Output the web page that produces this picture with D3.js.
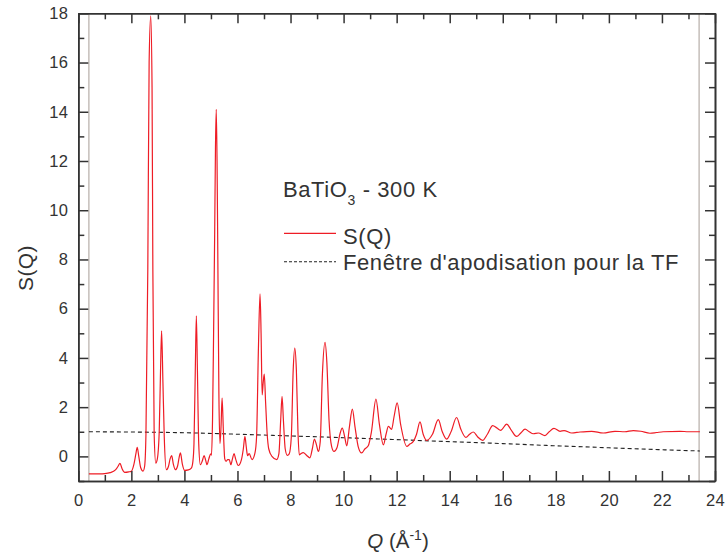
<!DOCTYPE html>
<html>
<head>
<meta charset="utf-8">
<script src="https://d3js.org/d3.v7.min.js"></script>
<style>
  body { margin: 0; background: #fff; }
  text { font-family: "Liberation Sans", Arial, Helvetica, sans-serif; fill: #333; }
</style>
</head>
<body>
<div id="graph"></div>
<script>
// S(Q)
const sqQ = [0.4, 0.8, 1.0, 1.2, 1.4, 1.5, 1.57, 1.65, 1.75, 1.9, 2.0, 2.1, 2.17, 2.22, 2.28, 2.35, 2.44, 2.5, 2.55, 2.62,
  2.67, 2.73, 2.78, 2.81, 2.86, 2.92, 2.98, 3.05, 3.1, 3.14, 3.19, 3.24, 3.32, 3.4, 3.46, 3.52, 3.58, 3.66, 3.74, 3.8,
  3.85, 3.92, 4.01, 4.15, 4.26, 4.32, 4.36, 4.41, 4.45, 4.49, 4.54, 4.6, 4.67, 4.74, 4.8, 4.85, 4.92, 4.99, 5.02, 5.06,
  5.1, 5.14, 5.17, 5.2, 5.23, 5.26, 5.3, 5.34, 5.38, 5.42, 5.47, 5.52, 5.57, 5.63, 5.69, 5.75, 5.81, 5.87, 5.93, 6.03,
  6.15, 6.22, 6.28, 6.33, 6.38, 6.44, 6.55, 6.66, 6.72, 6.79, 6.85, 6.89, 6.93, 6.97, 7.01, 7.06, 7.12, 7.18, 7.3, 7.48,
  7.56, 7.63, 7.68, 7.73, 7.8, 7.88, 7.95, 8.03, 8.1, 8.16, 8.22, 8.28, 8.33, 8.4, 8.48, 8.6, 8.73, 8.82, 8.9, 8.97,
  9.05, 9.12, 9.2, 9.3, 9.37, 9.45, 9.55, 9.64, 9.75, 9.86, 9.95, 10.04, 10.12, 10.22, 10.33, 10.43, 10.55, 10.68, 10.8, 10.93,
  11.05, 11.22, 11.35, 11.5, 11.6, 11.69, 11.81, 11.9, 12.02, 12.15, 12.38, 12.5, 12.63, 12.75, 12.88, 13.0, 13.13, 13.35, 13.57, 13.72,
  13.88, 14.05, 14.26, 14.42, 14.61, 14.75, 14.89, 15.05, 15.24, 15.42, 15.62, 15.78, 15.92, 16.15, 16.3, 16.52, 16.68, 16.84, 17.0, 17.15,
  17.34, 17.59, 17.75, 17.93, 18.16, 18.31, 18.6, 18.91, 19.35, 19.79, 20.23, 20.6, 20.92, 21.2, 21.55, 21.8, 22.05, 22.68, 23.0, 23.43];
const sqS = [-0.71, -0.71, -0.70, -0.66, -0.55, -0.4, -0.28, -0.5, -0.65, -0.63, -0.6, -0.3, 0.1, 0.37, 0.0, -0.45, -0.6, -0.4, 0.9, 7.6,
  16, 17.9, 15, 7.6, 0.9, -0.27, -0.1, 1.0, 3.5, 5.1, 3.0, 0.8, -0.54, -0.4, -0.1, 0.03, -0.3, -0.54, -0.4, -0.05,
  0.14, -0.3, -0.57, -0.55, -0.48, -0.2, 0.5, 3.5, 5.71, 3.5, 0.5, -0.34, -0.2, 0.03, -0.15, -0.34, -0.1, 0.1, 0.05, 1.5,
  5, 9, 12.5, 14.1, 12, 8, 2.5, 0.52, 1.2, 2.37, 1.0, -0.1, -0.2, -0.13, -0.13, -0.34, -0.1, 0.11, -0.1, -0.37,
  -0.13, 0.3, 0.81, 0.4, 0.03, 0.11, -0.13, 0.14, 0.8, 4.4, 6.6, 5.0, 2.5, 3.0, 3.34, 2.2, 0.9, 0.3, 0.0, -0.13,
  0.1, 1.5, 2.44, 1.5, 0.3, 0.04, 0.1, 0.8, 3.5, 4.4, 3.5, 1.0, 0.06, 0.12, 0.15, 0.05, -0.06, 0.3, 0.7, 0.5,
  0.2, 0.6, 3.3, 4.63, 3.8, 1.5, 0.4, 0.2, 0.35, 0.9, 1.15, 0.8, 0.43, 1.2, 1.92, 1.2, 0.4, 0.14, 0.3, 0.43,
  1.0, 2.33, 1.3, 0.47, 0.9, 1.22, 1.1, 1.6, 2.17, 1.3, 0.41, 0.5, 0.61, 0.9, 1.4, 0.9, 0.65, 0.9, 1.49, 1.0,
  0.7, 1.0, 1.58, 1.1, 0.77, 0.9, 0.99, 0.8, 0.65, 0.9, 1.25, 1.15, 1.06, 1.31, 1.1, 0.81, 0.95, 1.11, 1.0, 0.92,
  0.95, 0.84, 1.0, 1.14, 1.02, 1.05, 0.95, 0.99, 1.02, 0.95, 1.02, 1.0, 1.05, 1.02, 0.94, 0.97, 1.0, 1.02, 1.0, 1.0];

// apodisation window
const winQ = [0.4, 2, 4, 6, 8, 10, 12, 14, 16, 18, 20, 22, 23.43];
const winS = [1.0, 0.99, 0.96, 0.9, 0.83, 0.76, 0.68, 0.6, 0.52, 0.43, 0.35, 0.27, 0.22];

// limits of the data range (grey lines)
const qLimits = [0.4, 23.4];

const xMajor = d3.range(0, 25, 2);
const xMinor = d3.range(1, 24, 2);
const yMajor = d3.range(0, 19, 2);
const yMinor = d3.range(-1, 18, 2);

function graph() {

  let w = 725;
  let h = 558;
  let left = 78.3, right = 715, top = 13.3, bottom = 481;

  const xScale = d3.scaleLinear()
                   .domain([0, 24])
                   .range([left, right]);

  const yScale = d3.scaleLinear()
                   .domain([-1, 18])
                   .range([bottom, top]);

  const svg = d3.select("#graph")
                .append("svg")
                .attr("width", w)
                .attr("height", h);

  // grey limit lines
  svg.selectAll(".limit")
     .data(qLimits)
     .enter()
     .append("line")
     .attr("class", "limit")
     .attr("x1", d => xScale(d))
     .attr("x2", d => xScale(d))
     .attr("y1", top)
     .attr("y2", bottom)
     .attr("stroke", "#a89e96")
     .attr("stroke-width", 1);

  const line = d3.line()
                 .x(d => xScale(d[0]))
                 .y(d => yScale(d[1]));

  svg.append("path")
     .datum(winQ.map((q, i) => [q, winS[i]]))
     .attr("fill", "none")
     .attr("stroke", "#222")
     .attr("stroke-width", 1.1)
     .attr("stroke-dasharray", "4,3")
     .attr("d", line.curve(d3.curveMonotoneX));

  svg.append("path")
     .datum(sqQ.map((q, i) => [q, sqS[i]]))
     .attr("fill", "none")
     .attr("stroke", "#ee1c25")
     .attr("stroke-width", 1.2)
     .attr("d", line.curve(d3.curveMonotoneX));

  // axes, ticks pointing inward
  function addAxis(axis, transform, vals, size, labels, pad) {
    let g = svg.append("g")
               .attr("transform", transform)
               .call(axis.tickValues(vals)
                         .tickSize(-size)
                         .tickSizeOuter(0)
                         .tickPadding(pad)
                         .tickFormat(labels ? d3.format("d") : ""));
    g.select(".domain").attr("stroke", "#333").attr("stroke-width", 1.6);
    g.selectAll(".tick line").attr("stroke", "#333").attr("stroke-width", 1.5);
    g.selectAll(".tick text")
     .style("font-size", "16.5px")
     .style("letter-spacing", "0.3px")
     .attr("fill", "#333");
    return g;
  }

  addAxis(d3.axisBottom(xScale), "translate(0," + bottom + ")", xMajor, 10, true, 13);
  addAxis(d3.axisBottom(xScale), "translate(0," + bottom + ")", xMinor, 6, false, 13);
  addAxis(d3.axisTop(xScale), "translate(0," + top + ")", xMajor, 10, false, 3);
  addAxis(d3.axisTop(xScale), "translate(0," + top + ")", xMinor, 6, false, 3);
  addAxis(d3.axisLeft(yScale), "translate(" + left + ",0)", yMajor, 10, true, 10);
  addAxis(d3.axisLeft(yScale), "translate(" + left + ",0)", yMinor, 6, false, 10);
  addAxis(d3.axisRight(yScale), "translate(" + right + ",0)", yMajor, 10, false, 3);
  addAxis(d3.axisRight(yScale), "translate(" + right + ",0)", yMinor, 6, false, 3);

  // axis titles
  svg.append("text")
     .attr("transform", "translate(33,268) rotate(-90)")
     .attr("text-anchor", "middle")
     .style("font-size", "21px")
     .style("letter-spacing", "0.4px")
     .text("S(Q)");

  let xt = svg.append("text")
              .attr("x", 398)
              .attr("y", 548)
              .attr("text-anchor", "middle")
              .style("font-size", "20.5px");
  xt.append("tspan").style("font-style", "italic").text("Q");
  xt.append("tspan").text(" (Å");
  xt.append("tspan").attr("dy", -8).style("font-size", "14px").text("-1");
  xt.append("tspan").attr("dy", 8).text(")");

  // legend
  let title = svg.append("text")
                 .attr("x", 283)
                 .attr("y", 196.5)
                 .style("font-size", "22px")
                 .style("letter-spacing", "0.6px");
  title.append("tspan").text("BaTiO");
  title.append("tspan").attr("dy", 8).style("font-size", "14px").text("3");
  title.append("tspan").attr("dy", -8).text(" - 300 K");

  svg.append("line")
     .attr("x1", 284).attr("x2", 336)
     .attr("y1", 233.3).attr("y2", 233.3)
     .attr("stroke", "#ee1c25")
     .attr("stroke-width", 1.2);
  svg.append("text")
     .attr("x", 343)
     .attr("y", 243.5)
     .style("font-size", "22px")
     .style("letter-spacing", "0.6px")
     .text("S(Q)");

  svg.append("line")
     .attr("x1", 284).attr("x2", 336)
     .attr("y1", 261.7).attr("y2", 261.7)
     .attr("stroke", "#222")
     .attr("stroke-width", 1.1)
     .attr("stroke-dasharray", "3,2");
  svg.append("text")
     .attr("x", 343)
     .attr("y", 270)
     .style("font-size", "22px")
     .style("letter-spacing", "0.6px")
     .text("Fenêtre d'apodisation pour la TF");

} //end of graph func

graph();
</script>
</body>
</html>
